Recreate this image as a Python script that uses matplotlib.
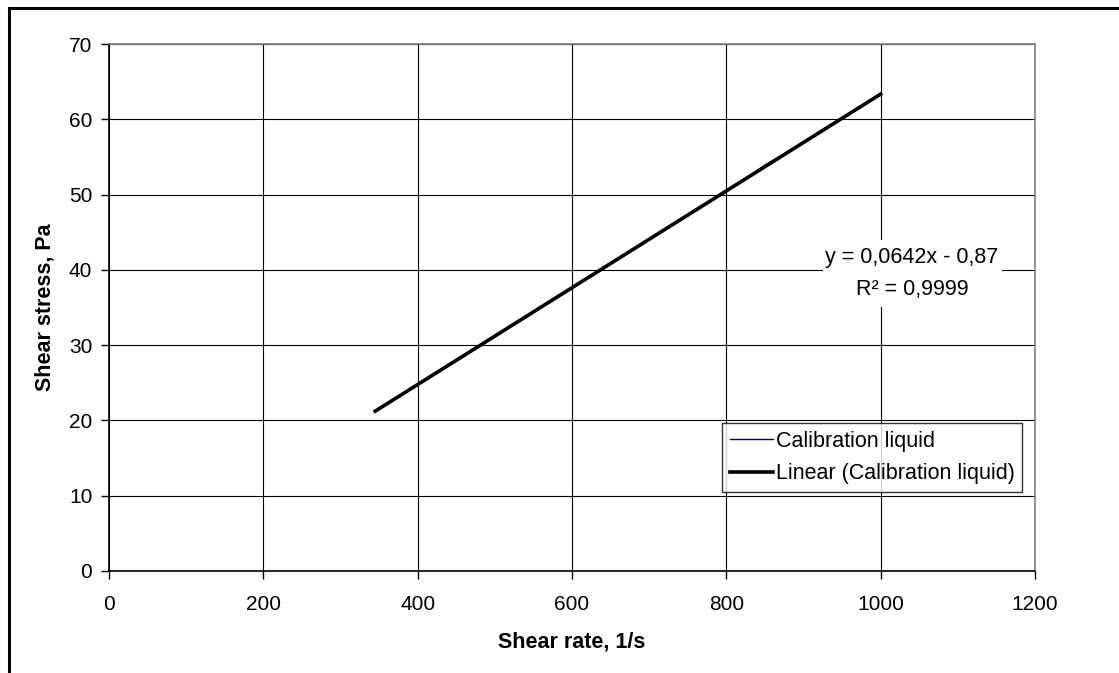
import numpy as np
import matplotlib
matplotlib.use('Agg')
import matplotlib.pyplot as plt
from matplotlib.patches import Rectangle

plt.rcParams['font.family'] = ['Liberation Sans', 'DejaVu Sans']

# measured shear rate / shear stress
shear_rate = [345, 400, 450, 500, 550, 600, 650, 700, 750, 800, 850, 900, 950, 1000]
shear_stress = [21.3, 24.8, 27.9, 31.1, 34.5, 37.5, 40.9, 44.1, 47.3, 50.4, 53.9, 56.9, 60.1, 63.3]

x_ticks = [0, 200, 400, 600, 800, 1000, 1200]
y_ticks = [0, 10, 20, 30, 40, 50, 60, 70]

eq_line1 = 'y = 0,0642x - 0,87'
eq_line2 = 'R² = 0,9999'

W, H = 1119, 673
fig = plt.figure(figsize=(W / 100, H / 100), dpi=100)
ax = fig.add_axes([109 / W, 1 - 571 / H, (1035 - 109) / W, (571 - 44) / H])

# outer chart frame (only top/left visible in the crop)
fig.patches.append(Rectangle((9 / W, -0.1), 1.2, 1 - 8 / H + 0.1, transform=fig.transFigure,
                             fill=False, edgecolor='black', linewidth=2.2))

ax.plot(shear_rate, shear_stress, color='#000080', linewidth=1.0, label='Calibration liquid', zorder=3)

k, b = np.polyfit(shear_rate, shear_stress, 1)
xs = np.array([min(shear_rate), max(shear_rate)])
ax.plot(xs, k * xs + b, color='black', linewidth=2.6, label='Linear (Calibration liquid)', zorder=4)

ax.set_xlim(0, 1200)
ax.set_ylim(0, 70)
ax.set_xticks(x_ticks)
ax.set_yticks(y_ticks)
ax.tick_params(labelsize=15, length=6, width=1, direction='out', color='black', pad=6)
ax.tick_params(axis='x', pad=11)
ax.grid(True, color='black', linewidth=0.8)
ax.set_axisbelow(True)

for s in ['left', 'bottom']:
    ax.spines[s].set_color('black')
    ax.spines[s].set_linewidth(1.2)
for s in ['top', 'right']:
    ax.spines[s].set_color('#808080')
    ax.spines[s].set_linewidth(1.2)

fig.text(572 / W, 1 - 642 / H, 'Shear rate, 1/s', fontsize=15.5, fontweight='bold', ha='center', va='center')
fig.text(45 / W, 1 - 307 / H, 'Shear stress, Pa', fontsize=15.5, fontweight='bold', ha='center', va='center',
         rotation=90)

# trendline label with white background
fig.patches.append(Rectangle((823 / W, 1 - 307 / H), (1002 - 823) / W, (307 - 240) / H,
                             transform=fig.transFigure, facecolor='white', edgecolor='none', zorder=5))
fig.text(912 / W, 1 - 258 / H, eq_line1, fontsize=15.5, ha='center', va='center', zorder=6)
fig.text(912 / W, 1 - 290 / H, eq_line2, fontsize=15.5, ha='center', va='center', zorder=6)

leg = ax.legend(loc='upper left', bbox_to_anchor=(722 / W, 1 - 423 / H), bbox_transform=fig.transFigure,
                borderaxespad=0, fontsize=15.5, frameon=True, fancybox=False, handlelength=2.0,
                handletextpad=0.15, borderpad=0.35, labelspacing=0.55)
leg.get_frame().set_edgecolor('black')
leg.get_frame().set_linewidth(1.0)
leg.set_zorder(6)

fig.savefig('out.png', dpi=100)
